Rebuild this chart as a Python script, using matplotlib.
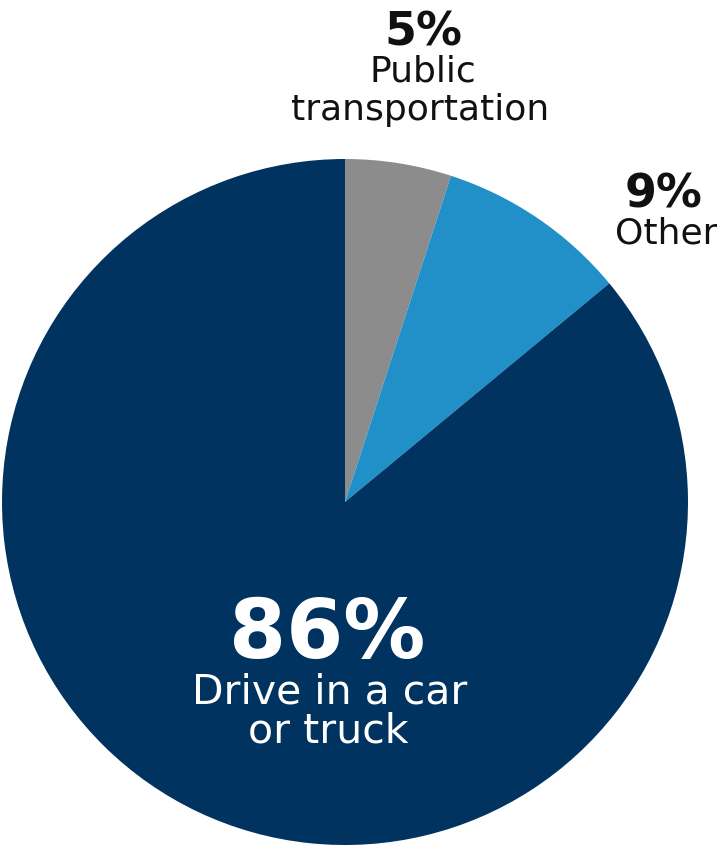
import matplotlib
matplotlib.use("Agg")
import matplotlib.pyplot as plt

labels = [["Public", "transportation"], ["Other"], ["Drive in a car", "or truck"]]
shares = [5, 9, 86]
colors = ["#8c8c8c", "#2190c8", "#00335f"]

W, H = 717, 846
fig = plt.figure(figsize=(W / 100, H / 100), dpi=100)
plt.rcParams['font.family'] = ['DejaVu Sans']

# pie: centre (345, 502) px, radius 343 px
cx, cy, r = 345, 502, 343
ax = fig.add_axes([(cx - r) / W, (H - cy - r) / H, 2 * r / W, 2 * r / H])
ax.pie(shares, colors=colors, startangle=90, counterclock=False,
       radius=1, wedgeprops=dict(linewidth=0))
ax.set_xlim(-1, 1)
ax.set_ylim(-1, 1)
ax.set_aspect("equal")
ax.axis("off")


def put(x, y, s, size, weight="normal", color="#111111"):
  # x, y in pixels from top-left, y is the baseline
  fig.text(x / W, 1 - y / H, s, ha="center", va="baseline",
           fontsize=size, fontweight=weight, color=color)


# public transportation
put(423, 46, f"{shares[0]}%", 33, "bold")
put(423, 82, labels[0][0], 26)
put(420, 120, labels[0][1], 26)
# other
put(664, 207, f"{shares[1]}%", 33, "bold")
put(666, 243, labels[1][0], 26)
# drive
put(327, 658, f"{shares[2]}%", 59, "bold", "white")
put(330, 703, labels[2][0], 29.5, color="white")
put(328, 742, labels[2][1], 29.5, color="white")

fig.savefig("out.png", dpi=100)
